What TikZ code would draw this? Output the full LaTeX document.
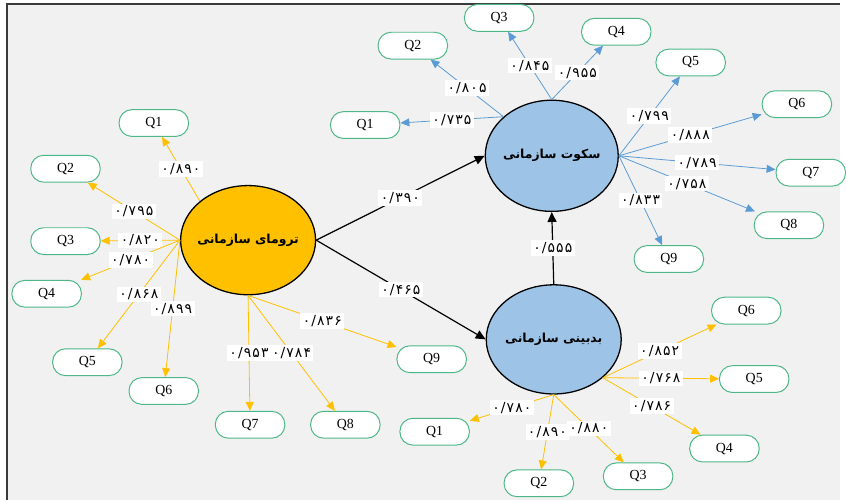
\documentclass[tikz,border=0pt]{standalone}
\usepackage{fontspec}
\setmainfont{Liberation Serif}
\newfontfamily\arabicfont[Script=Arabic]{DejaVu Sans}
\newfontfamily\digitfont[Script=Arabic,LetterSpace=8]{DejaVu Sans}
\TeXXeTstate=1
\usetikzlibrary{arrows.meta,shapes.geometric}
\definecolor{panel}{HTML}{F1F1F1}
\definecolor{framecol}{HTML}{3A3A3A}
\definecolor{trfill}{HTML}{FFC000}
\definecolor{trline}{HTML}{FFC000}
\definecolor{blfill}{HTML}{9DC3E6}
\definecolor{blline}{HTML}{5B9BD5}
\definecolor{qline}{HTML}{4DB886}
\newcommand\ld[1]{۰/#1}

\begin{document}
\begin{tikzpicture}[x=1pt,y=-1pt,
    construct/.style={ellipse,draw=black,line width=1.3pt,minimum width=136pt,
      minimum height=110pt,inner sep=0pt},
    ctext/.style={font=\arabicfont\bfseries\fontsize{12.5}{14}\selectfont},
    item/.style={draw=qline,line width=1pt,fill=white,rounded corners=13pt,
      minimum width=70pt,minimum height=27pt,inner sep=0pt,font=\fontsize{14}{16}\selectfont},
    val/.style={fill=white,inner xsep=2.5pt,inner ysep=2pt,font=\digitfont\fontsize{14}{15}\selectfont},
    ytrace/.style={draw=trline,line width=0.8pt,-{Triangle[length=9pt,width=8pt]}},
    btrace/.style={draw=blline,line width=0.8pt,-{Triangle[length=9pt,width=8pt]}},
    causal/.style={draw=black,line width=1.2pt,-{Triangle[length=10pt,width=9pt]}}]
  % panel and frame
  \fill[white] (0,0) rectangle (846,504);
  \fill[panel] (7,4) rectangle (846,504);
  \draw[framecol,line width=1.8pt] (7,504) -- (7,4) -- (846,4);

  % constructs
  \node[construct,fill=trfill,label={[ctext]center:\beginR ترومای سازمانی\endR}] (tr) at (250,242) {};
  \node[construct,fill=blfill,minimum width=134pt,minimum height=112pt,
    label={[ctext]center:\beginR سکوت سازمانی\endR}] (si) at (556,157) {};
  \node[construct,fill=blfill,label={[ctext]center:\beginR بدبینی سازمانی\endR}] (cy) at (558,342) {};

  % items of trauma
  \node[item] (trQ1) at (155,124) {Q1};
  \node[item] (trQ2) at (66,170) {Q2};
  \node[item] (trQ3) at (66,243) {Q3};
  \node[item] (trQ4) at (47,296) {Q4};
  \node[item] (trQ5) at (88,365) {Q5};
  \node[item] (trQ6) at (165,394) {Q6};
  \node[item] (trQ7) at (252,428) {Q7};
  \node[item] (trQ8) at (348,428) {Q8};
  \node[item] (trQ9) at (435,362) {Q9};

  % items of silence
  \node[item] (siQ1) at (368,126) {Q1};
  \node[item] (siQ2) at (416,46) {Q2};
  \node[item] (siQ3) at (503,18) {Q3};
  \node[item] (siQ4) at (621,32) {Q4};
  \node[item] (siQ5) at (696,63) {Q5};
  \node[item] (siQ6) at (803,105) {Q6};
  \node[item] (siQ7) at (817,174) {Q7};
  \node[item] (siQ8) at (795,227) {Q8};
  \node[item] (siQ9) at (674,261) {Q9};

  % items of cynicism
  \node[item] (cyQ1) at (438,435) {Q1};
  \node[item] (cyQ2) at (543,487) {Q2};
  \node[item] (cyQ3) at (643,480) {Q3};
  \node[item] (cyQ4) at (730,452) {Q4};
  \node[item] (cyQ5) at (760,382) {Q5};
  \node[item] (cyQ6) at (752,313) {Q6};

  % loadings
  \foreach \s/\t/\v in {tr.141/trQ1/۸۹۰,tr.west/trQ2/۷۹۵,tr.west/trQ3/۸۲۰,
      tr.west/trQ4/۷۸۰,tr.west/trQ5/۸۶۸,tr.west/trQ6/۸۹۹,tr.south/trQ7/۹۵۳,
      tr.south/trQ8/۷۸۴,tr.south/trQ9/۸۳۶,cy.south/cyQ1/۷۸۰,cy.south/cyQ2/۸۹۰,
      cy.south/cyQ3/۸۸۰,cy.-38/cyQ4/۷۸۶,cy.-38/cyQ5/۷۶۸,cy.-38/cyQ6/۸۵۲}
    \draw[ytrace] (\s) -- node[val]{\ld{\v}} (\t);
  \foreach \s/\t/\v in {si.141/siQ1/۷۳۵,si.141/siQ2/۸۰۵,si.north/siQ3/۸۴۵,
      si.north/siQ4/۹۵۵,si.east/siQ5/۷۹۹,si.east/siQ6/۸۸۸,si.east/siQ7/۷۸۹,
      si.east/siQ8/۷۵۸,si.east/siQ9/۸۳۳}
    \draw[btrace] (\s) -- node[val]{\ld{\v}} (\t);

  % paths between constructs
  \draw[causal] (tr.east) -- node[val]{\ld{۳۹۰}} (si.west);
  \draw[causal] (tr.east) -- node[val]{\ld{۴۶۵}} (cy.west);
  \draw[causal] (cy.north) -- node[val]{\ld{۵۵۵}} (si.south);
\end{tikzpicture}
\end{document}
